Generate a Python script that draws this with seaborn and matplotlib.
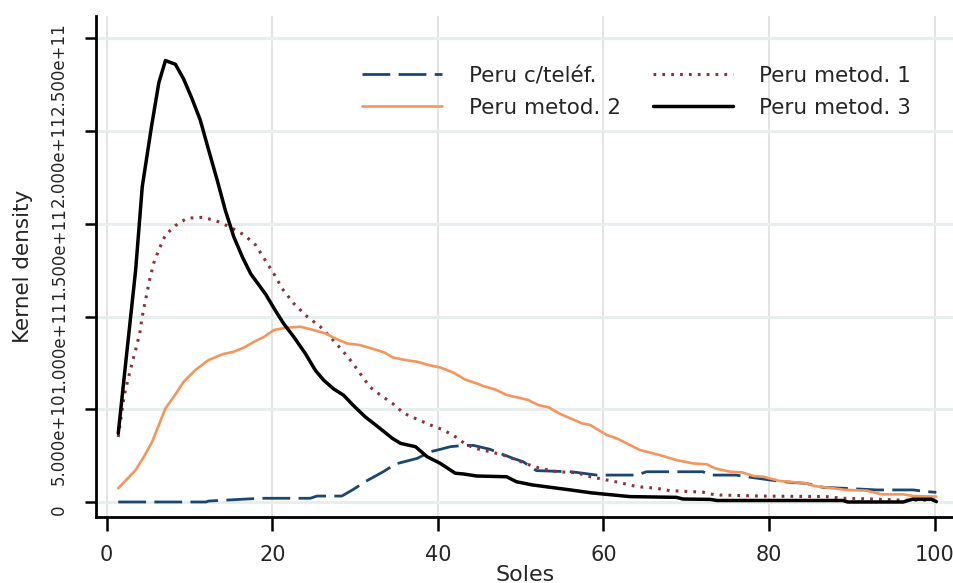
import numpy as np
import pandas as pd
import matplotlib
matplotlib.use("Agg")
import matplotlib.pyplot as plt
import matplotlib.transforms as mtransforms
import seaborn as sns

SCALE = 1e10

# --- Peru c/teléf. ---
tel_x = [1.4, 12.0, 12.3, 18.6, 24.6, 25.4, 28.4, 29.8, 31.2, 33.4, 34.9, 37.5, 39.1, 40.3, 41.5,
         43.1, 44.3, 46.3, 47.5, 49.1, 50.3, 51.9, 56.0, 57.0, 59.2, 64.0, 65.2, 72.0, 72.9, 76.0,
         77.3, 81.7, 84.5, 86.5, 89.0, 93.0, 97.4, 99.0, 100.2]
tel_y = [0.0, 0.0, 0.05, 0.2, 0.2, 0.32, 0.32, 0.68, 1.09, 1.63, 2.05, 2.35, 2.71, 2.84, 2.98,
         3.05, 3.05, 2.84, 2.62, 2.35, 2.17, 1.69, 1.63, 1.58, 1.45, 1.45, 1.63, 1.63, 1.45, 1.45,
         1.36, 1.09, 1.00, 0.79, 0.74, 0.65, 0.65, 0.56, 0.52]

# --- Peru metod. 1 ---
m1_x = [1.4, 2.1, 2.9, 3.5, 4.0, 4.3, 4.7, 5.2, 5.7, 6.3, 7.1, 8.3, 9.7, 11.7, 13.55, 15.0, 16.6,
        18.0, 19.2, 20.2, 21.2, 22.6, 24.2, 25.8, 27.0, 28.4, 29.6, 30.6, 31.8, 33.05, 34.5, 35.9,
        37.5, 39.1, 40.7, 42.1, 43.5, 44.9, 46.3, 47.9, 49.5, 51.1, 52.4, 54.4, 56.8, 58.0, 60.0,
        62.0, 64.0, 66.4, 68.0, 72.0, 73.5, 78.9, 86.9, 88.9, 92.5, 96.2, 100.2]
m1_y = [3.5, 5.7, 7.2, 8.2, 9.1, 10.0, 10.9, 12.0, 12.9, 13.6, 14.4, 14.9, 15.3, 15.35, 15.1, 14.8,
        14.4, 13.85, 13.0, 12.3, 11.5, 10.7, 10.0, 9.45, 8.9, 8.2, 7.56, 6.93, 6.2, 5.77, 5.32, 4.78,
        4.46, 4.15, 3.88, 3.52, 3.07, 2.85, 2.71, 2.53, 2.26, 1.99, 1.81, 1.63, 1.58, 1.40, 1.22,
        1.04, 0.83, 0.74, 0.61, 0.53, 0.38, 0.32, 0.29, 0.20, 0.16, 0.10, 0.10]

# --- Peru metod. 2 ---
m2_x = [1.4, 3.5, 4.5, 5.5, 6.3, 7.1, 8.1, 9.3, 10.7, 12.3, 14.0, 15.35, 16.6, 17.8, 19.0, 20.2,
        21.6, 23.4, 25.0, 26.4, 27.6, 29.0, 30.6, 32.65, 33.65, 34.5, 36.1, 37.5, 38.9, 40.3, 41.9,
        43.3, 44.9, 45.5, 46.9, 48.3, 50.9, 52.1, 53.4, 54.6, 56.0, 57.4, 58.4, 60.4, 61.6, 63.2,
        64.4, 66.8, 68.8, 70.8, 72.5, 73.5, 75.3, 76.7, 78.1, 79.3, 81.3, 82.5, 84.5, 85.5, 87.7,
        89.3, 91.8, 93.6, 96.2, 97.4, 100.2]
m2_y = [0.74, 1.72, 2.44, 3.25, 4.15, 5.05, 5.67, 6.48, 7.11, 7.65, 7.97, 8.1, 8.33, 8.64, 8.9, 9.27,
        9.39, 9.45, 9.27, 9.09, 8.82, 8.55, 8.46, 8.19, 8.04, 7.8, 7.65, 7.56, 7.38, 7.25, 6.97,
        6.6, 6.36, 6.25, 6.07, 5.77, 5.5, 5.23, 5.1, 4.78, 4.51, 4.24, 4.15, 3.61, 3.43, 3.07,
        2.8, 2.53, 2.26, 2.08, 2.03, 1.81, 1.63, 1.60, 1.40, 1.36, 1.13, 1.09, 1.00, 0.86, 0.74,
        0.65, 0.61, 0.41, 0.41, 0.32, 0.29]

# --- Peru metod. 3 ---
m3_x = [1.4, 2.3, 3.5, 4.3, 5.4, 6.3, 7.1, 8.3, 9.3, 10.3, 11.3, 12.3, 13.35, 14.35, 15.35, 16.4,
        17.4, 19.2, 20.4, 21.4, 22.6, 24.0, 25.2, 26.2, 27.4, 28.6, 29.8, 31.2, 33.0, 34.5, 35.5,
        37.3, 38.7, 40.3, 42.1, 43.1, 44.7, 48.3, 49.5, 51.4, 53.6, 56.0, 58.4, 60.4, 63.2, 68.8,
        69.6, 72.9, 73.7, 88.9, 89.5, 96.2, 97.3, 99.6, 100.2]
m3_y = [3.7, 7.5, 12.5, 17.0, 20.2, 22.6, 23.8, 23.6, 22.8, 21.75, 20.6, 19.0, 17.35, 15.7, 14.3, 13.2,
        12.3, 11.2, 10.3, 9.6, 8.9, 8.0, 7.1, 6.57, 6.1, 5.76, 5.2, 4.6, 3.97, 3.43, 3.16,
        2.98, 2.44, 2.08, 1.55, 1.51, 1.40, 1.36, 1.09, 0.92, 0.79, 0.65, 0.50, 0.41, 0.29, 0.25,
        0.16, 0.14, 0.08, 0.08, 0.0, 0.0, 0.15, 0.15, 0.02]

labels = ["Peru c/teléf.", "Peru metod. 1", "Peru metod. 2", "Peru metod. 3"]
colors = ["#1a476f", "#8e3039", "#f3965c", "#000000"]

x_ticks = [0, 20, 40, 60, 80, 100]
y_ticks = [0, 5, 10, 15, 20, 25]
y_tick_labels = ["0", "5.000e+10", "1.000e+11", "1.500e+11", "2.000e+11", "2.500e+11"]

series = [(tel_x, tel_y), (m1_x, m1_y), (m2_x, m2_y), (m3_x, m3_y)]
styles = [
    dict(linestyle=(0, (10.0, 3.0)), linewidth=2.0),
    dict(linestyle=(0, (0.9, 2.0)), linewidth=2.2),
    dict(linestyle="-", linewidth=1.9),
    dict(linestyle="-", linewidth=2.5),
]

sns.set_theme(style="white")
plt.rcParams["font.family"] = ["DejaVu Sans"]

fig = plt.figure(figsize=(9.54, 5.83), dpi=100)
ax = fig.add_axes([0.1006, 0.1132, 0.8994, 0.8593])

for (xs, ys), lab, col, st in zip(series, labels, colors, styles):
    df = pd.DataFrame({"x": xs, "y": np.array(ys) * SCALE})
    sns.lineplot(data=df, x="x", y="y", ax=ax, color=col, label=lab,
                 errorbar=None, estimator=None, sort=False, **st)

ax.set_xlim(-1.29, 102.33)
ax.set_ylim(-0.81 * SCALE, 26.2 * SCALE)

ax.yaxis.grid(True, color="#e7efee", linewidth=2.2)
ax.xaxis.grid(True, color="#dedede", linewidth=1.2)
ax.set_axisbelow(True)

for s in ["top", "right"]:
    ax.spines[s].set_visible(False)
for s in ["left", "bottom"]:
    ax.spines[s].set_color("black")
    ax.spines[s].set_linewidth(2.0)

ax.tick_params(axis="x", length=10, width=1.8, color="black", pad=10, bottom=True)
ax.tick_params(axis="y", length=8, width=1.8, color="black", pad=12, left=True)

ax.set_xticks(x_ticks)
ax.set_xticklabels([str(t) for t in x_ticks], fontsize=15)
ax.set_yticks([v * SCALE for v in y_ticks])
ax.set_yticklabels(y_tick_labels, rotation=90, va="center", fontsize=12)

# Stata coloca las etiquetas rotadas algo por debajo de cada marca
for lab in ax.get_yticklabels():
    dy = 8 if lab.get_text() == "0" else 30
    off = mtransforms.ScaledTranslation(0, -dy / 100, fig.dpi_scale_trans)
    lab.set_transform(lab.get_transform() + off)

ax.set_xlabel("Soles", fontsize=16)
ax.set_ylabel("Kernel density", fontsize=15.5)
ax.xaxis.set_label_coords(0.5, -0.095)
ax.yaxis.set_label_coords(-0.0734, 0.5)

handles, labs = ax.get_legend_handles_labels()
order = [0, 2, 1, 3]
ax.legend([handles[i] for i in order], [labs[i] for i in order], ncol=2, frameon=False,
          fontsize=15.5, handlelength=3.7, handletextpad=1.25, columnspacing=1.5,
          labelspacing=0.55, borderpad=0, borderaxespad=0,
          loc="upper left", bbox_to_anchor=(362 / 954, 1 - 66 / 583),
          bbox_transform=fig.transFigure)

fig.savefig("out.png", dpi=100)
